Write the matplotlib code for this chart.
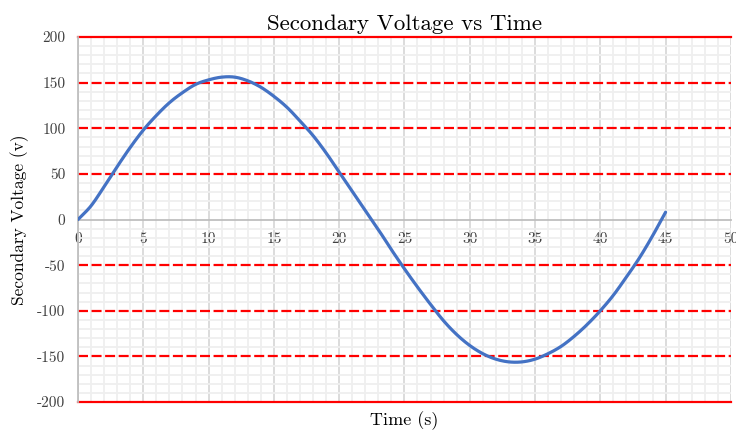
import matplotlib
matplotlib.use("Agg")
import matplotlib.pyplot as plt
import numpy as np

# data
time_s = list(range(0, 46))
voltage = [0, 15, 36, 58, 79, 98, 114, 128, 139, 148,
           153, 156, 156, 152, 145, 135, 123, 108, 92, 73,
           52, 31, 10, -11, -33, -54, -74, -93, -111, -126,
           -138, -147, -153, -156, -156, -153, -147, -139, -128, -115,
           -100, -83, -63, -42, -18, 8]

x_ticks = [0, 5, 10, 15, 20, 25, 30, 35, 40, 45, 50]
y_ticks = [200, 150, 100, 50, 0, -50, -100, -150, -200]
y_tick_labels = ["200", "150", "100", "50", "0", "-50", "-100", "-150", "-200"]

plt.rcParams["font.family"] = ["cmr10", "DejaVu Serif"]
plt.rcParams["axes.unicode_minus"] = False


def smooth(xs, ys, n=12):
    # catmull-rom curve through the points, like excel's smoothed line
    xs = np.asarray(xs, float)
    ys = np.asarray(ys, float)
    px = np.concatenate([[2 * xs[0] - xs[1]], xs, [2 * xs[-1] - xs[-2]]])
    py = np.concatenate([[2 * ys[0] - ys[1]], ys, [2 * ys[-1] - ys[-2]]])
    t = np.linspace(0, 1, n, endpoint=False)
    outx, outy = [], []
    for i in range(1, len(px) - 2):
        for p, o in ((px, outx), (py, outy)):
            p0, p1, p2, p3 = p[i - 1], p[i], p[i + 1], p[i + 2]
            o.extend(0.5 * (2 * p1 + (-p0 + p2) * t
                            + (2 * p0 - 5 * p1 + 4 * p2 - p3) * t ** 2
                            + (-p0 + 3 * p1 - 3 * p2 + p3) * t ** 3))
    outx.append(xs[-1])
    outy.append(ys[-1])
    return outx, outy


fig = plt.figure(figsize=(7.36, 4.30), dpi=100)
ax = fig.add_axes([0.106, 0.065, 0.887, 0.849])
ax.set_xlim(0, 50)
ax.set_ylim(-200, 200)

# minor grid
ax.set_xticks(np.arange(0, 51, 1), minor=True)
ax.set_yticks(np.arange(-200, 201, 10), minor=True)
ax.grid(which="minor", color="#efefef", linewidth=1.3)
ax.grid(which="major", axis="x", color="#d9d9d9", linewidth=1.3)

# red horizontal major lines
for v in y_ticks:
    if v == 0:
        continue
    if abs(v) == 200:
        ax.axhline(v, color="#ff0000", linewidth=1.6, zorder=2, clip_on=False)
    else:
        ax.axhline(v, color="#ff0000", linewidth=1.6, linestyle=(0, (4.5, 1.6)), zorder=2)

sx, sy = smooth(time_s, voltage)
ax.plot(sx, sy, color="#4472c4", linewidth=2.3, zorder=3, solid_capstyle="round")

# axes through origin
for s in ["top", "right"]:
    ax.spines[s].set_visible(False)
ax.spines["bottom"].set_position(("data", 0))
ax.spines["bottom"].set_color("#bfbfbf")
ax.spines["bottom"].set_linewidth(1.3)
ax.spines["left"].set_color("#bfbfbf")
ax.spines["left"].set_linewidth(1.3)

ax.set_xticks(x_ticks, [str(v) for v in x_ticks])
ax.set_yticks(y_ticks, y_tick_labels)
ax.tick_params(which="both", length=0)
ax.tick_params(axis="x", pad=9, labelsize=11, labelcolor="#404040")
ax.tick_params(axis="y", pad=9, labelsize=11, labelcolor="#404040")

ax.set_title("Secondary Voltage vs Time", fontsize=16.5, pad=5)
ax.set_xlabel("Time (s)", fontsize=13)
ax.xaxis.set_label_coords(0.5, -0.025)
ax.set_ylabel("Secondary Voltage (v)", fontsize=12.5)
ax.yaxis.set_label_coords(-0.075, 0.5)

fig.savefig("out.png", dpi=100)
